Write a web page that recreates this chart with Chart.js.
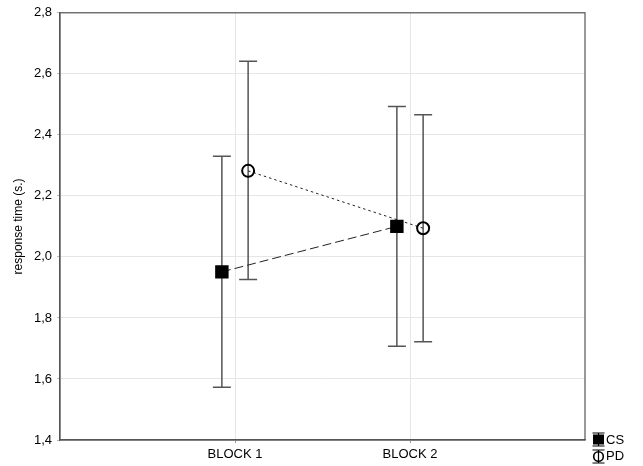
<!DOCTYPE html>
<html>
<head>
<meta charset="utf-8">
<script src="https://cdn.jsdelivr.net/npm/chart.js@4.4.0/dist/chart.umd.min.js"></script>
<style>
html,body{margin:0;padding:0;background:#fff;}
#wrap{width:643px;height:466px;position:relative;}
</style>
</head>
<body>
<div id="wrap"><canvas id="c" width="643" height="466"></canvas></div>
<script>
const categories = ['BLOCK 1', 'BLOCK 2'];
const seriesNames = ['CS', 'PD'];
const csMean = [1.951, 2.100];
const csLow  = [1.573, 1.707];
const csHigh = [2.330, 2.493];
const pdMean = [2.282, 2.094];
const pdLow  = [1.926, 1.722];
const pdHigh = [2.641, 2.466];
const yTicks = [1.4, 1.6, 1.8, 2.0, 2.2, 2.4, 2.6, 2.8];
const offset = 0.075;

function pts(means, shift) {
  return means.map((v, i) => ({x: i + 1 + shift, y: v}));
}
const errors = [
  {low: csLow, high: csHigh, shift: -offset},
  {low: pdLow, high: pdHigh, shift: offset}
];

const errorBarPlugin = {
  id: 'errbars',
  beforeDatasetsDraw(chart) {
    const ctx = chart.ctx, xs = chart.scales.x, ys = chart.scales.y;
    ctx.save();
    ctx.strokeStyle = '#555';
    ctx.lineWidth = 1.5;
    errors.forEach(e => {
      e.low.forEach((lo, i) => {
        const px = xs.getPixelForValue(i + 1 + e.shift);
        const py1 = ys.getPixelForValue(lo), py2 = ys.getPixelForValue(e.high[i]);
        ctx.beginPath();
        ctx.moveTo(px, py1); ctx.lineTo(px, py2);
        ctx.moveTo(px - 9, py1); ctx.lineTo(px + 9, py1);
        ctx.moveTo(px - 9, py2); ctx.lineTo(px + 9, py2);
        ctx.stroke();
      });
    });
    ctx.restore();
  },
  afterDraw(chart) {
    const ctx = chart.ctx, a = chart.chartArea;
    ctx.save();
    ctx.strokeStyle = '#555';
    ctx.lineWidth = 1.2;
    ctx.strokeRect(a.left, a.top, a.right - a.left, a.bottom - a.top);
    // legend
    const lx = 598.5;
    ctx.strokeStyle = '#000';
    ctx.lineWidth = 1.2;
    // CS
    ctx.beginPath();
    ctx.moveTo(lx - 6, 433); ctx.lineTo(lx + 6, 433);
    ctx.moveTo(lx - 6, 446); ctx.lineTo(lx + 6, 446);
    ctx.moveTo(lx, 433); ctx.lineTo(lx, 446);
    ctx.stroke();
    ctx.fillStyle = '#000';
    ctx.fillRect(lx - 5.5, 434.5, 11, 10);
    // PD
    ctx.beginPath();
    ctx.moveTo(lx - 6, 450); ctx.lineTo(lx + 6, 450);
    ctx.moveTo(lx - 6, 463); ctx.lineTo(lx + 6, 463);
    ctx.moveTo(lx, 450); ctx.lineTo(lx, 463);
    ctx.stroke();
    ctx.lineWidth = 1.6;
    ctx.beginPath();
    ctx.arc(lx, 456.5, 4.8, 0, Math.PI * 2);
    ctx.stroke();
    ctx.fillStyle = '#000';
    ctx.font = '13px "Liberation Sans", Arial, sans-serif';
    ctx.textBaseline = 'middle';
    ctx.textAlign = 'left';
    ctx.fillText(seriesNames[0], 606, 440);
    ctx.fillText(seriesNames[1], 606, 456);
    ctx.restore();
  }
};

Chart.defaults.font.family = '"Liberation Sans", Arial, sans-serif';
Chart.defaults.color = '#000';

new Chart(document.getElementById('c'), {
  type: 'line',
  data: {
    datasets: [
      {
        label: seriesNames[0],
        data: pts(csMean, -offset),
        borderColor: '#222',
        borderWidth: 1,
        borderDash: [9, 4],
        pointStyle: 'rect',
        pointRadius: 9.5,
        pointBackgroundColor: '#000',
        pointBorderColor: '#000',
        pointBorderWidth: 0,
        fill: false
      },
      {
        label: seriesNames[1],
        data: pts(pdMean, offset),
        borderColor: '#222',
        borderWidth: 1,
        borderDash: [2.5, 3],
        pointStyle: 'circle',
        pointRadius: 6,
        pointBackgroundColor: 'rgba(0,0,0,0)',
        pointBorderColor: '#000',
        pointBorderWidth: 2,
        fill: false
      }
    ]
  },
  options: {
    responsive: false,
    animation: false,
    events: [],
    layout: {padding: {left: 0, top: 10, right: 58, bottom: 0}},
    plugins: {legend: {display: false}, tooltip: {enabled: false}},
    scales: {
      x: {
        type: 'linear',
        min: 0, max: 3,
        afterBuildTicks(s) { s.ticks = categories.map((c, i) => ({value: i + 1})); },
        afterFit(s) { s.height = 26; },
        ticks: {
          callback: (v) => categories[v - 1] || '',
          font: {size: 13},
          padding: 4,
          maxRotation: 0
        },
        grid: {color: '#e6e6e6', tickLength: 3, tickColor: '#999'},
        border: {color: '#555', width: 1.2}
      },
      y: {
        min: 1.4, max: 2.8,
        afterBuildTicks(s) { s.ticks = yTicks.map(v => ({value: v})); },
        afterFit(s) { s.width = 60; },
        ticks: {
          callback: (v) => v.toFixed(1).replace('.', ','),
          font: {size: 13},
          padding: 5
        },
        title: {display: true, text: 'response time (s.)', font: {size: 12}, padding: {top: 11, bottom: 0}},
        grid: {color: '#e6e6e6', tickLength: 3, tickColor: '#bbb'},
        border: {color: '#555', width: 1.2}
      }
    }
  },
  plugins: [errorBarPlugin]
});
</script>
</body>
</html>
